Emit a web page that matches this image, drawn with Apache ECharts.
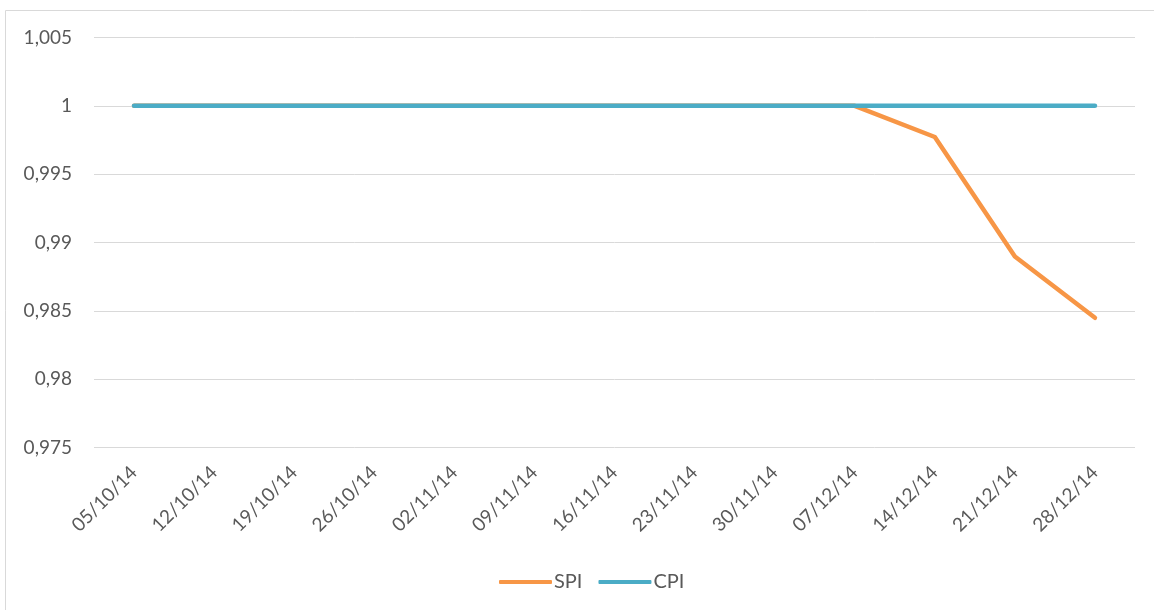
<!DOCTYPE html>
<html>
<head>
<meta charset="utf-8">
<script src="https://cdn.jsdelivr.net/npm/echarts@6/dist/echarts.min.js"></script>
<style>html,body{margin:0;padding:0;background:#fff;}#c{width:1154px;height:610px;}</style>
</head>
<body>
<div id="c"></div>
<script>
const categories = ['05/10/14','12/10/14','19/10/14','26/10/14','02/11/14','09/11/14','16/11/14','23/11/14','30/11/14','07/12/14','14/12/14','21/12/14','28/12/14'];
const spiValues = [1,1,1,1,1,1,1,1,1,1,0.99772,0.98897,0.98449];
const cpiValues = [1,1,1,1,1,1,1,1,1,1,1,1,1];
const yTicks = [0.975,0.98,0.985,0.99,0.995,1,1.005];

const chart = echarts.init(document.getElementById('c'), null, {renderer:'canvas'});
const fmt = v => {
  const s = String(Math.round(v*1000)/1000);
  return s.replace('.', ',');
};
chart.setOption({
  animation:false,
  textStyle:{fontFamily:'Lato'},
  graphic:[{type:'rect',shape:{x:5.5,y:10.5,width:1300,height:800},style:{fill:'none',stroke:'#d9d9d9',lineWidth:1},silent:true,z:-1}],
  grid:{left:94,right:19,top:37.5,bottom:162.5},
  legend:{top:567,left:494,itemWidth:53,itemHeight:4,itemGap:16,icon:'roundRect',
    textStyle:{color:'#595959',fontSize:20,fontFamily:'Lato',padding:[0,0,0,-3]},
    data:['SPI','CPI']},
  xAxis:{type:'category',data:categories,boundaryGap:true,
    axisLine:{show:false},axisTick:{show:false},
    axisLabel:{rotate:45,color:'#595959',fontSize:19,fontFamily:'Lato',margin:22,interval:0}},
  yAxis:{type:'value',min:0.975,max:1.005,interval:0.005,
    axisLine:{show:false},axisTick:{show:false},
    splitLine:{lineStyle:{color:'#d9d9d9',width:1}},
    axisLabel:{color:'#595959',fontSize:19,fontFamily:'Lato',margin:22,formatter:fmt}},
  series:[
    {name:'SPI',type:'line',data:spiValues,symbol:'none',color:'#F79646',
      lineStyle:{width:4.5,color:'#F79646',cap:'round',join:'round'}},
    {name:'CPI',type:'line',data:cpiValues,symbol:'none',color:'#4BACC6',
      lineStyle:{width:4.5,color:'#4BACC6',cap:'round',join:'round'}}
  ]
});
</script>
</body>
</html>
